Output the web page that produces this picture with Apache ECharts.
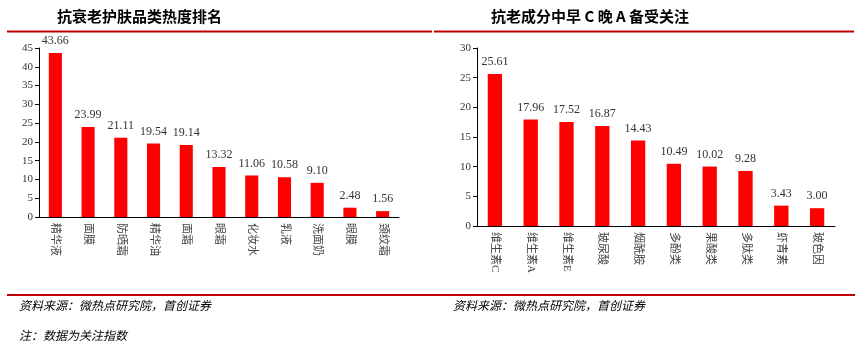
<!DOCTYPE html>
<html>
<head>
<meta charset="utf-8">
<script src="https://cdn.jsdelivr.net/npm/echarts@6/dist/echarts.min.js"></script>
<style>
  html, body { margin: 0; padding: 0; background: #fff; }
  #chart { width: 866px; height: 352px; }
</style>
</head>
<body>
<div id="chart"></div>
<script>
// 左图：抗衰老护肤品类热度
var leftCats = ['精华液', '面膜', '防晒霜', '精华油', '面霜', '眼霜', '化妆水', '乳液', '洗面奶', '眼膜', '颈纹霜'];
var leftVals = [43.66, 23.99, 21.11, 19.54, 19.14, 13.32, 11.06, 10.58, 9.10, 2.48, 1.56];
// 右图：抗老成分关注指数
var rightCats = ['维生素C', '维生素A', '维生素E', '玻尿酸', '烟酰胺', '多酚类', '果酸类', '多肽类', '虾青素', '玻色因'];
var rightVals = [25.61, 17.96, 17.52, 16.87, 14.43, 10.49, 10.02, 9.28, 3.43, 3.00];

var serif = '"Liberation Serif", "Times New Roman", "Noto Sans CJK SC", serif';
var kai = '"Noto Sans CJK SC", sans-serif';

function xAxisFor(idx, cats) {
    return {
        type: 'category',
        gridIndex: idx,
        data: cats,
        axisLine: { lineStyle: { color: '#000', width: 1 } },
        axisTick: { show: false },
        axisLabel: {
            rotate: -90,
            color: '#444',
            fontSize: 11,
            fontFamily: serif,
            margin: 6
        }
    };
}

function yAxisFor(idx, max) {
    return {
        type: 'value',
        gridIndex: idx,
        min: 0,
        max: max,
        interval: 5,
        splitLine: { show: false },
        axisLine: { show: true, lineStyle: { color: '#000', width: 1 } },
        axisTick: { show: true, length: 4, lineStyle: { color: '#000' } },
        axisLabel: { color: '#333', fontSize: 11, fontFamily: serif, margin: 6 }
    };
}

function barSeries(idx, vals) {
    return {
        type: 'bar',
        xAxisIndex: idx,
        yAxisIndex: idx,
        data: vals,
        barWidth: '40%',
        itemStyle: { color: '#ff0000' },
        label: {
            show: true,
            position: 'top',
            distance: 6,
            color: '#333',
            fontSize: 12,
            fontFamily: serif,
            formatter: function (p) { return p.value.toFixed(2); }
        }
    };
}

var myEcharts = echarts.init(document.getElementById('chart'));
var option = {
    animation: false,
    grid: [
        { left: 39, right: 467, top: 48, bottom: 135 },
        { left: 477, right: 31, top: 48, bottom: 126 }
    ],
    xAxis: [xAxisFor(0, leftCats), xAxisFor(1, rightCats)],
    yAxis: [yAxisFor(0, 45), yAxisFor(1, 30)],
    series: [barSeries(0, leftVals), barSeries(1, rightVals)],
    graphic: [
        // 标题
        { type: 'text', left: 57, top: 9, style: { text: '抗衰老护肤品类热度排名', font: 'bold 15px "Noto Sans CJK SC", sans-serif', fill: '#000' } },
        { type: 'text', left: 491, top: 9, style: { text: '抗老成分中早 C 晚 A 备受关注', font: 'bold 15px "Noto Sans CJK SC", sans-serif', fill: '#000' } },
        // 红色分隔线
        { type: 'line', shape: { x1: 7, y1: 31.5, x2: 432, y2: 31.5 }, style: { stroke: '#c00000', lineWidth: 2 } },
        { type: 'line', shape: { x1: 434, y1: 31.5, x2: 854, y2: 31.5 }, style: { stroke: '#c00000', lineWidth: 2 } },
        { type: 'line', shape: { x1: 7, y1: 295, x2: 855, y2: 295 }, style: { stroke: '#c00000', lineWidth: 2 } },
        // 来源和注释
        { type: 'text', left: 19, top: 299, style: { text: '资料来源：微热点研究院，首创证券', font: 'italic 12px ' + kai, fill: '#000' } },
        { type: 'text', left: 453, top: 299, style: { text: '资料来源：微热点研究院，首创证券', font: 'italic 12px ' + kai, fill: '#000' } },
        { type: 'text', left: 19, top: 329, style: { text: '注：数据为关注指数', font: 'italic 12px ' + kai, fill: '#000' } }
    ]
};
myEcharts.setOption(option);
</script>
</body>
</html>
